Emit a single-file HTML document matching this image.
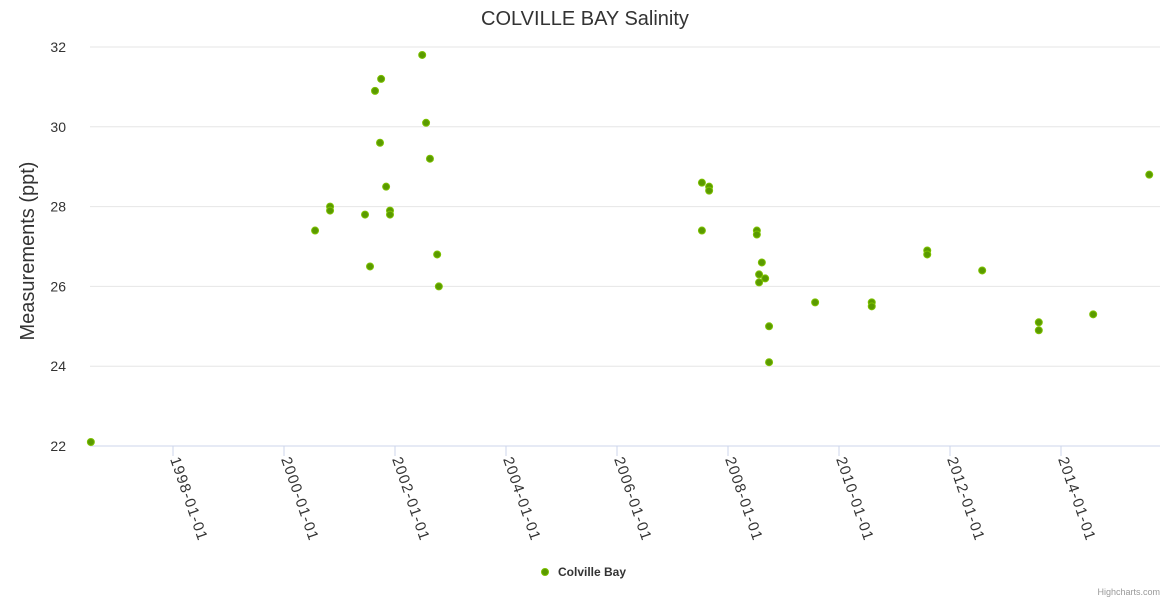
<!DOCTYPE html>
<html><head><meta charset="utf-8"><style>
body{margin:0;background:#fff;font-family:"Liberation Sans","DejaVu Sans",sans-serif}
</style></head><body>
<svg id="chart" width="1170" height="600" xmlns="http://www.w3.org/2000/svg">
<text x="585" y="25" text-anchor="middle" font-size="20" fill="#333">COLVILLE BAY Salinity</text>
<text transform="translate(34,251) rotate(-90)" text-anchor="middle" font-size="20" fill="#333">Measurements (ppt)</text>
<g id="grid"></g><g id="xaxis"></g><g id="points"></g>
<g>
<circle cx="545" cy="572" r="3.5" fill="#5a9a00" stroke="#7cc000" stroke-width="1"/>
<text x="558" y="576" font-size="12" font-weight="bold" fill="#333">Colville Bay</text>
</g>
<text x="1160" y="595" text-anchor="end" font-size="9" fill="#999">Highcharts.com</text>
</svg>
<script>
const yTicks=[22,24,26,28,30,32];
const xTickYears=[1998,2000,2002,2004,2006,2008,2010,2012,2014];
const xTickLabels=["1998-01-01","2000-01-01","2002-01-01","2004-01-01","2006-01-01","2008-01-01","2010-01-01","2012-01-01","2014-01-01"];
const dates=[1996.52,2000.56,2000.83,2000.83,2001.46,2001.55,2001.64,2001.75,2001.73,2001.84,2001.91,2001.91,2002.49,2002.56,2002.63,2002.76,2002.79,2007.53,2007.66,2007.66,2007.53,2008.52,2008.52,2008.61,2008.56,2008.56,2008.67,2008.74,2008.74,2009.57,2010.59,2010.59,2011.59,2011.59,2012.58,2013.60,2013.60,2014.58,2015.59];
const salinity=[22.1,27.4,28.0,27.9,27.8,26.5,30.9,31.2,29.6,28.5,27.9,27.8,31.8,30.1,29.2,26.8,26.0,28.6,28.5,28.4,27.4,27.4,27.3,26.6,26.3,26.1,26.2,25.0,24.1,25.6,25.6,25.5,26.9,26.8,26.4,25.1,24.9,25.3,28.8];
const NS="http://www.w3.org/2000/svg";
const L=90,R=1160,T=47,B=446;
const xs=v=>173+(v-1998)*55.5;
const ys=v=>B-(v-22)/10*(B-T);
function mk(t,a,p){const e=document.createElementNS(NS,t);for(const k in a)e.setAttribute(k,a[k]);p.appendChild(e);return e;}
const g=document.getElementById('grid'),xa=document.getElementById('xaxis'),pg=document.getElementById('points');
yTicks.forEach(v=>{
  const l=mk('line',{x1:L,x2:R,y1:ys(v),y2:ys(v),stroke:v===22?'#ccd6eb':'#e6e6e6','stroke-width':1},g);
  
  
  const t=mk('text',{x:66,y:ys(v)+5,'text-anchor':'end','font-size':14,fill:'#333'},g);
  t.textContent=v;
  
  
});
xTickYears.forEach((v,i)=>{
  const x=xs(v);
  const l=mk('line',{x1:x,x2:x,y1:B,y2:B+10,stroke:'#ccd6eb'},xa);
  
  
  const t=mk('text',{transform:`translate(${x-3},${B+13}) rotate(71)`,'font-size':15,'letter-spacing':'1.1',fill:'#333'},xa);
  t.textContent=xTickLabels[i];
  
  
});
dates.forEach((d,i)=>{
  const c=mk('circle',{cx:xs(d),cy:ys(salinity[i]),r:3.5,fill:'#5a9a00',stroke:'#7cc000','stroke-width':1},pg);
  
  
});
</script>
</body></html>
